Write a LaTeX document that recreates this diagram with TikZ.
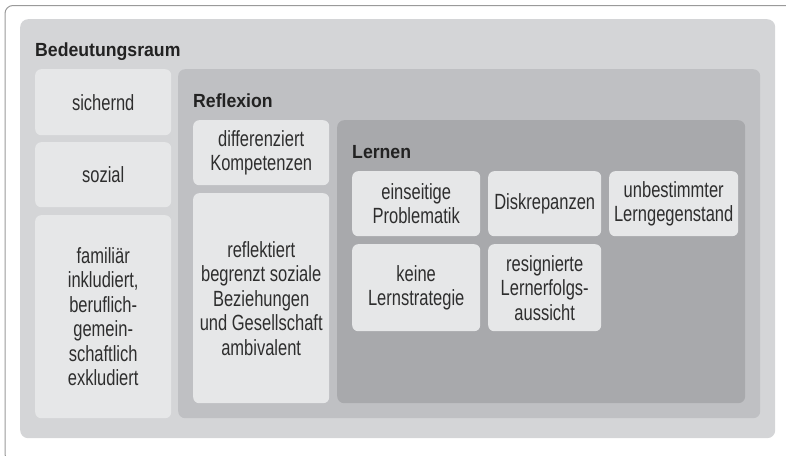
\documentclass[tikz,border=0pt]{standalone}
\usepackage{fontspec}
\setmainfont{Liberation Sans}
\newfontfamily\bodyff{Liberation Sans}[FakeStretch=0.75]
\newfontfamily\ttlff{Liberation Sans}[FakeStretch=0.93]
\newcommand\bodyfont{\bodyff\fontsize{22}{24.5}\selectfont}
\newcommand\ttlfont{\ttlff\bfseries\fontsize{19}{22}\selectfont}
\definecolor{framec}{HTML}{9A9A9A}
\definecolor{outerc}{HTML}{D4D5D7}
\definecolor{reflc}{HTML}{BFC0C3}
\definecolor{lernc}{HTML}{A8A9AC}
\definecolor{cellc}{HTML}{E6E7E8}
\definecolor{txtc}{HTML}{2E2E2E}
\definecolor{ttlc}{HTML}{222222}
\tikzset{
  area/.style={inner sep=0pt, anchor=north west, rounded corners=8pt},
  cell/.style={fill=cellc, rounded corners=6pt, inner sep=0pt, align=center,
    text=txtc, font=\bodyfont, anchor=north west},
  ttl/.style={anchor=base west, inner sep=0pt, font=\ttlfont, text=ttlc},
}
\begin{document}
\begin{tikzpicture}[x=1pt,y=-1pt]
\useasboundingbox (0,0) rectangle (786,455);
% frame
\draw[framec, line width=1pt, rounded corners=8pt] (786,5.5) -- (5,5.5) -- (5,462) -- (30,462);
% areas
\node[area, fill=outerc, minimum width=755pt, minimum height=419pt] (outer) at (20,19) {};
\node[area, fill=reflc, minimum width=582pt, minimum height=349pt, rounded corners=7pt] (refl) at (178,69) {};
\node[area, fill=lernc, minimum width=408pt, minimum height=283pt, rounded corners=7pt] (lern) at (337,120) {};
% titles
\node[ttl] (tb) at (35,56) {Bedeutungsraum};
\node[ttl] (tr) at (193,107) {Reflexion};
\node[ttl] (tl) at (352,158) {Lernen};
% left column
\node[cell, minimum width=136pt, minimum height=66pt] (c1) at (35,69) {sichernd};
\node[cell, minimum width=136pt, minimum height=65pt] (c2) at (35,142) {sozial};
\node[cell, minimum width=136pt, minimum height=203pt] (c3) at (35,215) {familiär\\inkludiert,\\beruflich-\\gemein-\\schaftlich\\exkludiert};
% reflexion column
\node[cell, minimum width=136pt, minimum height=65pt] (r1) at (193,120) {differenziert\\Kompetenzen};
\node[cell, minimum width=136pt, minimum height=210pt] (r2) at (193,193) {reflektiert\\begrenzt soziale\\Beziehungen\\und Gesellschaft\\ambivalent};
% lernen cells
\node[cell, minimum width=128pt, minimum height=65pt] (l1) at (352,171) {einseitige\\Problematik};
\node[cell, minimum width=113pt, minimum height=65pt] (l2) at (488,171) {Diskrepanzen};
\node[cell, minimum width=129pt, minimum height=65pt] (l3) at (609,171) {unbestimmter\\Lerngegenstand};
\node[cell, minimum width=128pt, minimum height=87pt] (l4) at (352,244) {keine\\Lernstrategie};
\node[cell, minimum width=113pt, minimum height=87pt] (l5) at (488,244) {resignierte\\Lernerfolgs-\\aussicht};
\end{tikzpicture}
\end{document}
